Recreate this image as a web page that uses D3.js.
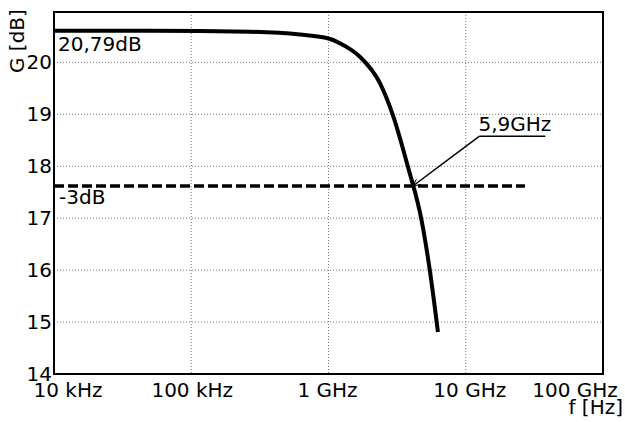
<!DOCTYPE html>
<html>
<head>
<meta charset="utf-8">
<script src="https://cdn.jsdelivr.net/npm/d3@7"></script>
<style>
  html, body { margin: 0; padding: 0; background: #fff; }
  svg text { font-family: "DejaVu Sans", sans-serif; fill: #000; }
</style>
</head>
<body>
<svg id="chart" width="625" height="422"></svg>
<script>
// --- data ---
const freqHz = [1e7, 5e7, 2.68e8, 6.2e8, 1.0e9, 1.21e9, 1.69e9, 2.37e9, 2.94e9, 3.79e9, 4.79e9, 5.47e9, 6.27e9];
const gainDb = [20.61, 20.61, 20.59, 20.535, 20.46, 20.37, 20.11, 19.6, 18.99, 17.99, 16.93, 16.0, 14.81];
const xTicks = [1e7, 1e8, 1e9, 1e10, 1e11];
const xTickLabels = ["10 kHz", "100 kHz", "1 GHz", "10 GHz", "100 GHz"];
const yTicks = [14, 15, 16, 17, 18, 19, 20];
const cutoffDb = 17.62;          // -3dB level
const cutoffSpan = [1e7, 2.7e10];
const cutoffPoint = [4.12e9, 17.62];
const labelPoint = [1.26e10, 18.58];
const labelEnd = 3.8e10;

// --- layout ---
const svg = d3.select("#chart");
const plotL = 54, plotR = 603, plotT = 12, plotB = 374;
const fontSize = "20px";

const x = d3.scaleLog().domain([1e7, 1e11]).range([plotL, plotR]);
const y = d3.scaleLinear().domain([14, 20.97]).range([plotB, plotT]);

// grid
const grid = svg.append("g");
grid.selectAll(".hg")
    .data(yTicks.slice(1))
    .enter().append("line")
    .attr("x1", plotL).attr("x2", plotR)
    .attr("y1", d => y(d)).attr("y2", d => y(d))
    .attr("stroke", "#777").attr("stroke-width", 1)
    .attr("stroke-dasharray", "1,2");
grid.selectAll(".vg")
    .data(xTicks.slice(1, -1))
    .enter().append("line")
    .attr("x1", d => x(d)).attr("x2", d => x(d))
    .attr("y1", plotT).attr("y2", plotB)
    .attr("stroke", "#777").attr("stroke-width", 1)
    .attr("stroke-dasharray", "1,2");

// -3dB dashed line
svg.append("line")
    .attr("x1", x(cutoffSpan[0])).attr("x2", x(cutoffSpan[1]))
    .attr("y1", y(cutoffDb)).attr("y2", y(cutoffDb))
    .attr("stroke", "#000").attr("stroke-width", 3.5)
    .attr("stroke-dasharray", "10,4");

// gain curve
const line = d3.line()
    .x((d, i) => x(freqHz[i]))
    .y(d => y(d))
    .curve(d3.curveMonotoneX);

svg.append("path")
    .datum(gainDb)
    .attr("fill", "none")
    .attr("stroke", "#000")
    .attr("stroke-width", 4)
    .attr("d", line);

// frame
svg.append("rect")
    .attr("x", plotL).attr("y", plotT)
    .attr("width", plotR - plotL).attr("height", plotB - plotT)
    .attr("fill", "none").attr("stroke", "#000").attr("stroke-width", 2);

// y tick labels
svg.selectAll(".ytl")
    .data(yTicks)
    .enter().append("text")
    .attr("x", plotL - 2)
    .attr("y", d => y(d) + 7)
    .attr("text-anchor", "end")
    .style("font-size", fontSize)
    .text(d => d);

// x tick labels (end ones pulled inside)
const xShift = [14, 1, -1, 4, -28];
svg.selectAll(".xtl")
    .data(xTicks)
    .enter().append("text")
    .attr("x", (d, i) => x(d) + xShift[i])
    .attr("y", 397)
    .attr("text-anchor", "middle")
    .style("font-size", fontSize)
    .text((d, i) => xTickLabels[i]);

// axis titles
svg.append("text")
    .attr("x", 623).attr("y", 414)
    .attr("text-anchor", "end")
    .style("font-size", fontSize)
    .text("f [Hz]");

svg.append("text")
    .attr("transform", "translate(24,73) rotate(-90)")
    .attr("text-anchor", "start")
    .style("font-size", fontSize)
    .text("G [dB]");

// annotations
svg.append("text")
    .attr("x", 58).attr("y", 51)
    .style("font-size", fontSize)
    .text("20,79dB");

svg.append("text")
    .attr("x", 59).attr("y", 204)
    .style("font-size", fontSize)
    .text("-3dB");

svg.append("defs").append("marker")
    .attr("id", "arrow")
    .attr("viewBox", "0 0 10 10")
    .attr("refX", 10).attr("refY", 5)
    .attr("markerWidth", 7).attr("markerHeight", 7)
    .attr("markerUnits", "userSpaceOnUse")
    .attr("orient", "auto")
    .append("path")
    .attr("d", "M0,0 L10,5 L0,10")
    .attr("fill", "none").attr("stroke", "#000").attr("stroke-width", 1.5);

svg.append("line")
    .attr("x1", x(labelPoint[0])).attr("y1", y(labelPoint[1]))
    .attr("x2", x(cutoffPoint[0])).attr("y2", y(cutoffPoint[1]))
    .attr("stroke", "#000").attr("stroke-width", 1.5)
    .attr("marker-end", "url(#arrow)");

svg.append("line")
    .attr("x1", x(labelPoint[0])).attr("y1", y(labelPoint[1]))
    .attr("x2", x(labelEnd)).attr("y2", y(labelPoint[1]))
    .attr("stroke", "#000").attr("stroke-width", 1.5);

svg.append("text")
    .attr("x", x(labelPoint[0]) - 1).attr("y", y(labelPoint[1]) - 5)
    .style("font-size", fontSize)
    .text("5,9GHz");
</script>
</body>
</html>
